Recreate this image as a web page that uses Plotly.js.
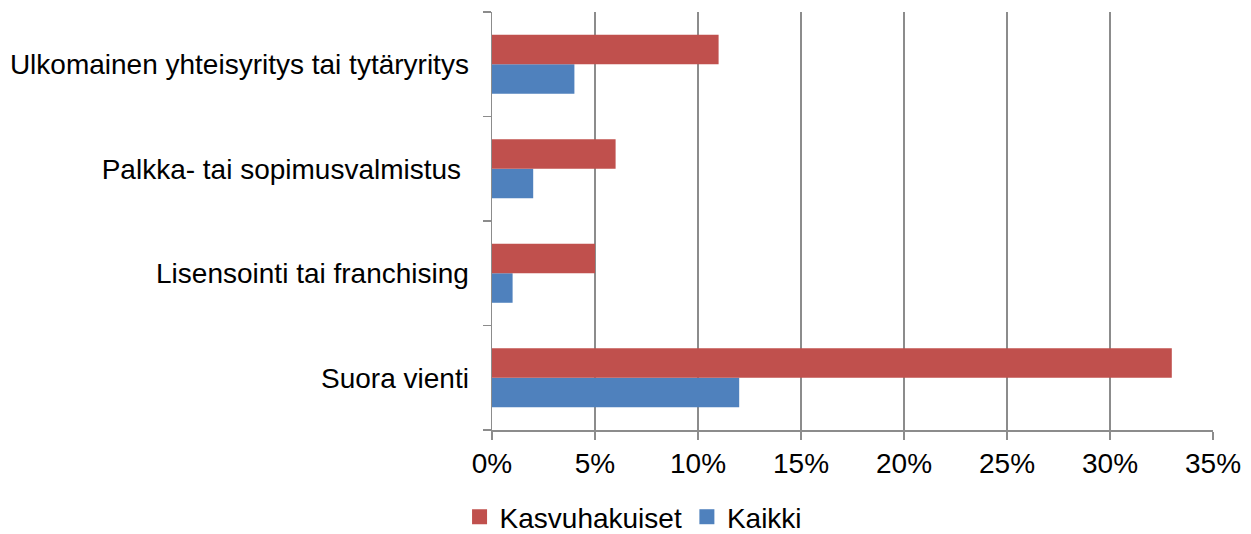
<!DOCTYPE html>
<html>
<head>
<meta charset="utf-8">
<script src="https://cdn.plot.ly/plotly-3.0.1.min.js"></script>
<style>html,body{margin:0;padding:0;background:#fff;}#chart{width:1251px;height:534px;}</style>
</head>
<body>
<div id="chart"></div>
<script>
const categories = ["Suora vienti", "Lisensointi tai franchising", "Palkka- tai sopimusvalmistus\u00a0", "Ulkomainen yhteisyritys tai tytäryritys"];
const kaikki = [0.12, 0.01, 0.02, 0.04];
const kasvuhakuiset = [0.33, 0.05, 0.06, 0.11];
const xTickVals = [0, 0.05, 0.10, 0.15, 0.20, 0.25, 0.30, 0.35];
const xTickText = ["0%", "5%", "10%", "15%", "20%", "25%", "30%", "35%"];
const seriesNames = ["Kaikki", "Kasvuhakuiset"];
const seriesColors = ["#4F81BD", "#C0504D"];

const traces = [
  {type: "bar", orientation: "h", name: seriesNames[0], y: categories, x: kaikki,
   marker: {color: seriesColors[0]}, showlegend: false},
  {type: "bar", orientation: "h", name: seriesNames[1], y: categories, x: kasvuhakuiset,
   marker: {color: seriesColors[1]}, showlegend: false},
  // legend entries (square swatches)
  {type: "scatter", mode: "markers", name: seriesNames[0], x: [null], y: [null],
   marker: {symbol: "square", size: 15, color: seriesColors[0]}},
  {type: "scatter", mode: "markers", name: seriesNames[1], x: [null], y: [null],
   marker: {symbol: "square", size: 15, color: seriesColors[1]}}
];
const layout = {
  width: 1251, height: 534,
  margin: {l: 492, r: 38, t: 12, b: 104, autoexpand: false},
  paper_bgcolor: "#fff", plot_bgcolor: "#fff",
  font: {family: "Liberation Sans, Arial, sans-serif", size: 28, color: "#000"},
  barmode: "group", bargap: 0.435, bargroupgap: 0,
  showlegend: true,
  legend: {orientation: "h", traceorder: "reversed", x: -0.045, xanchor: "left",
           y: -0.268, yanchor: "bottom", font: {size: 28}, itemwidth: 30},
  xaxis: {range: [0, 0.35], tickvals: xTickVals, ticktext: xTickText, automargin: false,
          showgrid: true, gridcolor: "#8c8c8c", gridwidth: 1.5,
          showline: true, linecolor: "#8c8c8c", linewidth: 1.5,
          ticks: "outside", ticklen: 8, tickcolor: "#8c8c8c", tickwidth: 1.5,
          zeroline: false, fixedrange: true},
  yaxis: {type: "category", categoryorder: "array", categoryarray: categories, automargin: false,
          showline: true, linecolor: "#8c8c8c", linewidth: 1.5,
          ticks: "outside", tickson: "boundaries", ticklen: 8, tickcolor: "#8c8c8c", tickwidth: 1.5,
          showgrid: false, ticklabelstandoff: 16, fixedrange: true}
};
Plotly.newPlot("chart", traces, layout, {displayModeBar: false, staticPlot: true});
</script>
</body>
</html>
